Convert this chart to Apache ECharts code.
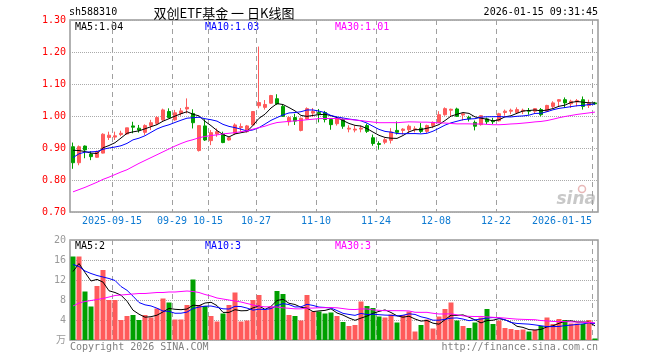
<!DOCTYPE html>
<html><head><meta charset="utf-8">
<script src="https://cdn.jsdelivr.net/npm/echarts@6/dist/echarts.min.js"></script>
<style>html,body{margin:0;padding:0;background:#fff}#c{width:660px;height:360px}</style>
</head><body><div id="c"></div>
<script>
const categories = ['2025-09-04','2025-09-05','2025-09-08','2025-09-09','2025-09-10','2025-09-11','2025-09-12','2025-09-15','2025-09-16','2025-09-17',
'2025-09-18','2025-09-19','2025-09-22','2025-09-23','2025-09-24','2025-09-25','2025-09-26','2025-09-29','2025-09-30','2025-10-09',
'2025-10-10','2025-10-13','2025-10-14','2025-10-15','2025-10-16','2025-10-17','2025-10-20','2025-10-21','2025-10-22','2025-10-23',
'2025-10-24','2025-10-27','2025-10-28','2025-10-29','2025-10-30','2025-10-31','2025-11-03','2025-11-04','2025-11-05','2025-11-06',
'2025-11-07','2025-11-10','2025-11-11','2025-11-12','2025-11-13','2025-11-14','2025-11-17','2025-11-18','2025-11-19','2025-11-20',
'2025-11-21','2025-11-24','2025-11-25','2025-11-26','2025-11-27','2025-11-28','2025-12-01','2025-12-02','2025-12-03','2025-12-04',
'2025-12-05','2025-12-08','2025-12-09','2025-12-10','2025-12-11','2025-12-12','2025-12-15','2025-12-16','2025-12-17','2025-12-18',
'2025-12-19','2025-12-22','2025-12-23','2025-12-24','2025-12-25','2025-12-26','2025-12-29','2025-12-30','2025-12-31','2026-01-05',
'2026-01-06','2026-01-07','2026-01-08','2026-01-09','2026-01-12','2026-01-13','2026-01-14','2026-01-15'];

const opens = [0.904,0.854,0.906,0.881,0.871,0.884,0.933,0.934,0.942,0.944,
0.969,0.962,0.949,0.970,0.977,0.988,1.014,0.988,1.008,1.022,
1.008,0.892,0.969,0.923,0.944,0.943,0.925,0.946,0.964,0.951,
0.972,1.032,1.027,1.040,1.054,1.030,0.982,0.995,0.955,0.991,
1.009,1.011,1.011,0.989,0.976,0.989,0.959,0.956,0.959,0.970,
0.932,0.914,0.918,0.924,0.955,0.955,0.957,0.957,0.962,0.952,
0.970,0.980,1.004,1.018,1.022,1.003,0.996,0.980,0.973,0.991,
0.985,0.985,1.011,1.015,1.011,1.015,1.017,1.015,1.020,1.015,
1.030,1.046,1.051,1.038,1.044,1.051,1.033,1.041];
const closes = [0.854,0.904,0.894,0.873,0.889,0.943,0.940,0.938,0.946,0.963,
0.965,0.956,0.970,0.979,0.995,1.019,0.995,1.010,1.016,1.027,
0.979,0.970,0.925,0.948,0.951,0.917,0.932,0.972,0.967,0.969,
1.014,1.042,1.036,1.064,1.038,0.999,0.995,0.984,0.993,1.023,
1.014,1.007,0.989,0.973,0.992,0.968,0.962,0.959,0.962,0.952,
0.914,0.911,0.926,0.950,0.949,0.959,0.968,0.960,0.952,0.970,
0.980,1.004,1.023,1.021,0.999,1.007,0.991,0.968,1.001,0.982,
0.982,1.007,1.015,1.018,1.020,1.018,1.015,1.023,1.004,1.033,
1.041,1.051,1.041,1.046,1.048,1.030,1.041,1.038];
const highs = [0.917,0.908,0.908,0.890,0.892,0.946,0.951,0.951,0.954,0.963,
0.982,0.972,0.974,0.988,1.000,1.023,1.024,1.019,1.025,1.055,
1.021,0.970,0.990,0.956,0.961,0.951,0.935,0.977,0.977,0.972,
1.014,1.217,1.050,1.066,1.068,1.035,0.999,1.007,0.995,1.027,
1.025,1.022,1.016,0.991,0.994,0.993,0.971,0.970,0.970,0.976,
0.942,0.921,0.931,0.962,0.983,0.962,0.973,0.968,0.978,0.973,
0.983,1.015,1.027,1.023,1.026,1.009,1.001,0.986,1.003,0.995,
0.994,1.010,1.020,1.023,1.027,1.023,1.025,1.025,1.025,1.035,
1.046,1.053,1.058,1.051,1.053,1.061,1.051,1.044];
const lows = [0.835,0.846,0.868,0.862,0.869,0.883,0.925,0.925,0.937,0.942,
0.946,0.948,0.941,0.956,0.972,0.985,0.993,0.985,1.001,1.008,
0.961,0.889,0.922,0.909,0.935,0.915,0.923,0.941,0.951,0.948,
0.970,1.024,1.020,1.038,1.035,0.997,0.970,0.972,0.952,0.989,
0.997,0.980,0.980,0.957,0.970,0.960,0.949,0.949,0.949,0.947,
0.907,0.895,0.912,0.914,0.942,0.942,0.947,0.949,0.947,0.947,
0.962,0.978,1.001,0.999,0.997,0.986,0.983,0.955,0.970,0.975,
0.975,0.983,1.001,1.006,1.006,1.006,1.004,1.009,0.999,1.013,
1.025,1.030,1.025,1.025,1.030,1.020,1.025,1.035];
// volume in 万
const volumes = [16.7,16.7,9.7,6.7,10.8,14.0,8.0,8.0,4.0,4.8,
5.0,4.0,5.0,4.5,6.3,8.3,7.5,4.1,4.1,7.0,
12.1,7.0,6.8,4.8,3.7,5.3,7.0,9.5,3.7,3.9,
8.0,9.0,6.0,6.7,9.8,9.2,5.0,4.8,3.9,9.0,
5.7,5.7,5.3,5.5,4.8,3.6,2.8,3.0,7.7,6.8,
6.4,4.7,4.5,5.1,3.5,5.0,5.7,1.7,3.0,4.1,
2.3,4.7,6.2,7.5,3.9,2.8,2.4,3.5,4.5,6.2,
3.2,3.9,2.4,2.2,2.0,2.1,1.7,2.0,2.8,4.5,
3.2,4.2,4.0,3.3,3.3,3.2,4.0,0.3];

// moving-average values for days whose window starts before the visible range
const ma5Early = [0.893,0.892,0.889,0.884];
const ma10Early = [0.870,0.882,0.887,0.888,0.889,0.896,0.900,0.903,0.907];
const ma30Early = [0.763,0.770,0.777,0.785,0.793,0.802,0.809,0.817,0.825,0.832,
0.842,0.852,0.861,0.870,0.879,0.888,0.897,0.906,0.914,0.921,
0.926,0.932,0.936,0.939,0.941,0.944,0.946,0.948,0.951];
const vma5Early = [13.7,15.3,13.5,11.8];
const vma10Early = [15.1,14.7,13.8,13.3,12.9,12.6,12.3,11.9,10.7];
const vma30Early = [6.8,7.4,7.7,7.9,8.1,8.3,8.6,8.9,9.0,9.1,
9.2,9.3,9.3,9.4,9.5,9.5,9.6,9.6,9.7,9.8,
9.7,9.5,9.1,8.8,8.4,8.2,8.0,7.8,7.6];

const tickIdx = [7,17,23,31,41,51,61,71,87];
const tickLabels = ['2025-09-15','09-29','10-15','10-27','11-10','11-24','12-08','12-22','2026-01-15'];
const priceTicks = {min:0.70, max:1.30, interval:0.10};
const volTicks = {min:0, max:20, interval:4};

function ma(vals, n, early){
  return vals.map((v,i)=>{
    if(i < n-1) return early[i];
    let s=0; for(let k=i-n+1;k<=i;k++) s+=vals[k];
    return +(s/n).toFixed(4);
  });
}
const ma5 = ma(closes,5,ma5Early), ma10 = ma(closes,10,ma10Early), ma30 = ma(closes,30,ma30Early);
const vma5 = ma(volumes,5,vma5Early), vma10 = ma(volumes,10,vma10Early), vma30 = ma(volumes,30,vma30Early);
const last = a => a[a.length-1];
const f2 = v => (Math.floor(v*100+1e-6)/100).toFixed(2);
const f0 = v => String(Math.floor(v));

const UP='#ff5b5b', DOWN='#00a000';
const MONO='DejaVu Sans Mono, Noto Sans CJK SC, monospace';
const kData = opens.map((o,i)=>[o,closes[i],lows[i],highs[i]]);
const vData = volumes.map((v,i)=>({value:v,itemStyle:{color: closes[i]>=opens[i]?UP:DOWN}}));
const N = categories.length;

// vertical dashed date lines: drawn on a band-edge value axis (day i's left edge = value i),
// as a column of small filled dashes (no canvas line-dash needed)
const dateLines = (xi, yi, lo, hi) => ({type:'custom', xAxisIndex:xi, yAxisIndex:yi, silent:true, z:2,
  data: tickIdx.map(i=>[i, lo, hi]),
  encode:{x:0, y:[1,2]},
  renderItem:(params, api)=>{
    const v = api.value(0);
    const top = api.coord([v, api.value(2)]), bot = api.coord([v, api.value(1)]);
    const x = Math.round(top[0]);
    const children = [];
    for(let y = Math.round(top[1]); y < bot[1]; y += 9){
      children.push({type:'rect', shape:{x:x, y:y, width:1, height:Math.min(5, bot[1]-y)}, style:{fill:'#a0a0a0'}});
    }
    return {type:'group', children};
  }});

const chart = echarts.init(document.getElementById('c'), null, {renderer:'canvas'});
chart.setOption({
  animation:false,
  grid:[
    {left:70, top:20, width:528, height:192, show:true, borderColor:'#999', borderWidth:1.5},
    {left:70, top:240, width:528, height:100, show:true, borderColor:'#999', borderWidth:1.5}
  ],
  xAxis:[
    {type:'category', gridIndex:0, data:categories, boundaryGap:true,
     axisLine:{show:false}, axisTick:{show:false}, splitLine:{show:false},
     axisLabel:{show:true, interval:(i)=>tickIdx.includes(i), margin:4, color:'#0d7ad2', fontFamily:MONO, fontSize:10,
       formatter:(v,i)=>{const k=tickIdx.indexOf(i); if(k<0) return ''; return (k===tickIdx.length-1?'{r|':'{n|')+tickLabels[k]+'}';},
       rich:{n:{padding:[0,6,0,0], color:'#0d7ad2', fontFamily:MONO, fontSize:10}, r:{padding:[0,66,0,0], color:'#0d7ad2', fontFamily:MONO, fontSize:10}}}},
    {type:'category', gridIndex:1, data:categories, boundaryGap:true,
     axisLine:{show:false}, axisTick:{show:false}, splitLine:{show:false}, axisLabel:{show:false}},
    {type:'value', gridIndex:0, min:0, max:N, show:false},
    {type:'value', gridIndex:1, min:0, max:N, show:false}
  ],
  yAxis:[
    {type:'value', gridIndex:0, min:priceTicks.min, max:priceTicks.max, interval:priceTicks.interval,
     axisLine:{show:false}, axisTick:{show:false},
     splitLine:{show:true, lineStyle:{color:'#aaa', width:1, type:'dotted'}},
     axisLabel:{color:'#ff0000', fontFamily:MONO, fontSize:10, margin:4, formatter:v=>v.toFixed(2)}},
    {type:'value', gridIndex:1, min:volTicks.min, max:volTicks.max, interval:volTicks.interval,
     axisLine:{show:false}, axisTick:{show:false},
     splitLine:{show:true, lineStyle:{color:'#aaa', width:1, type:'dotted'}},
     axisLabel:{color:'#999', fontFamily:MONO, fontSize:10, margin:4, formatter:v=>v===0?'万':String(v)}}
  ],
  series:[
    dateLines(2,0,priceTicks.min,priceTicks.max),
    dateLines(3,1,volTicks.min,volTicks.max),
    {type:'candlestick', xAxisIndex:0, yAxisIndex:0, data:kData, barWidth:4, z:3,
     itemStyle:{color:UP, color0:DOWN, borderColor:UP, borderColor0:DOWN, borderWidth:1}, emphasis:{disabled:true}},
    {type:'line', xAxisIndex:0, yAxisIndex:0, data:ma5, showSymbol:false, lineStyle:{color:'#000', width:1}, silent:true, z:4},
    {type:'line', xAxisIndex:0, yAxisIndex:0, data:ma10, showSymbol:false, lineStyle:{color:'#0000ff', width:1}, silent:true, z:4},
    {type:'line', xAxisIndex:0, yAxisIndex:0, data:ma30, showSymbol:false, lineStyle:{color:'#ff00ff', width:1}, silent:true, z:4},
    {type:'bar', xAxisIndex:1, yAxisIndex:1, data:vData, barWidth:5, silent:true, z:3},
    {type:'line', xAxisIndex:1, yAxisIndex:1, data:vma5, showSymbol:false, lineStyle:{color:'#000', width:1}, silent:true, z:4},
    {type:'line', xAxisIndex:1, yAxisIndex:1, data:vma10, showSymbol:false, lineStyle:{color:'#0000ff', width:1}, silent:true, z:4},
    {type:'line', xAxisIndex:1, yAxisIndex:1, data:vma30, showSymbol:false, lineStyle:{color:'#ff00ff', width:1}, silent:true, z:4}
  ],
  graphic:[
    {type:'text', left:69, top:7, style:{text:'sh588310', font:'10px '+MONO, fill:'#000'}},
    {type:'text', x:224, y:13, style:{text:'双创ETF基金 一 日K线图', font:'13px "Noto Sans CJK SC"', fill:'#000', align:'center', verticalAlign:'middle'}},
    {type:'text', x:598, y:12, style:{text:'2026-01-15 09:31:45', font:'10px '+MONO, fill:'#000', align:'right', verticalAlign:'middle'}},
    {type:'text', x:75, y:27, style:{text:'MA5:'+f2(last(ma5)), font:'10px '+MONO, fill:'#000', verticalAlign:'middle'}},
    {type:'text', x:205, y:27, style:{text:'MA10:'+f2(last(ma10)), font:'10px '+MONO, fill:'#0000ff', verticalAlign:'middle'}},
    {type:'text', x:335, y:27, style:{text:'MA30:'+f2(last(ma30)), font:'10px '+MONO, fill:'#ff00ff', verticalAlign:'middle'}},
    {type:'text', x:75, y:246, style:{text:'MA5:'+f0(last(vma5)), font:'10px '+MONO, fill:'#000', verticalAlign:'middle'}},
    {type:'text', x:205, y:246, style:{text:'MA10:'+f0(last(vma10)), font:'10px '+MONO, fill:'#0000ff', verticalAlign:'middle'}},
    {type:'text', x:335, y:246, style:{text:'MA30:'+f0(last(vma30)), font:'10px '+MONO, fill:'#ff00ff', verticalAlign:'middle'}},
    {type:'text', x:70, y:347, style:{text:'Copyright 2026 SINA.COM', font:'10px '+MONO, fill:'#808080', verticalAlign:'middle'}},
    {type:'text', x:598, y:347, style:{text:'http://finance.sina.com.cn', font:'10px '+MONO, fill:'#808080', align:'right', verticalAlign:'middle'}},
    {type:'text', x:596, y:200, style:{text:'sina', font:'italic bold 17px "DejaVu Sans"', fill:'#c8c8c8', align:'right', verticalAlign:'middle'}},
    {type:'circle', shape:{cx:582, cy:189, r:3.5}, style:{fill:'none', stroke:'#e8b8b8', lineWidth:1.5}}
  ]
});
</script></body></html>
